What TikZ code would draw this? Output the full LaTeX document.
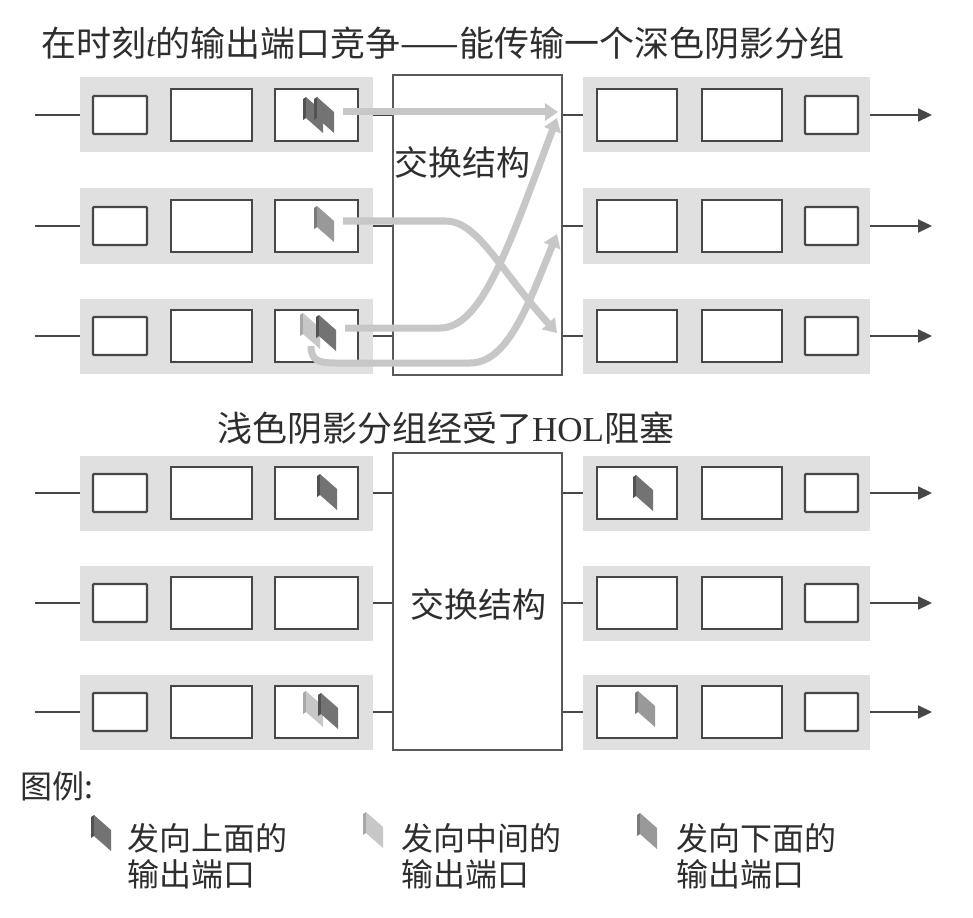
\documentclass[tikz,border=0pt]{standalone}
\usepackage{fontspec}
\setmainfont{Liberation Serif}
\newfontfamily\cjk{Noto Sans CJK SC}
\usetikzlibrary{arrows.meta}
\tikzset{
  pics/pkt/.style n args={2}{code={
    \fill[#2] (0,2) -- (3,0) -- (3,21) -- (0,23) -- cycle;
    \fill[#1] (3,0) -- (20,15) -- (20,36) -- (3,21) -- cycle;
  }}
}
\begin{document}
\begin{tikzpicture}[x=1pt,y=-1pt,
  band/.style={fill=black!12, draw=none, minimum height=75pt, inner sep=0},
  bigbox/.style={draw=black!72, line width=2.2pt, fill=white, minimum width=80pt, minimum height=52pt, inner sep=0},
  smallbox/.style={draw=black!72, line width=2.2pt, fill=white, minimum width=53pt, minimum height=38pt, inner sep=0, rounded corners=1pt},
  wire/.style={draw=black!72, line width=2.2pt},
  outarrow/.style={wire, -{Triangle[length=14pt,width=13pt]}},
  fabric/.style={draw=black!65, line width=1.8pt, fill=white, inner sep=0, minimum width=169pt},
  flow/.style={draw=black!22, line width=7pt, -{Triangle[length=13pt,width=17pt]}},
  lbl/.style={font=\cjk\fontsize{35}{38}\selectfont, text=black!82, inner sep=0},
  fablbl/.style={font=\cjk\fontsize{34}{38}\selectfont, text=black!82, inner sep=0},
  leg/.style={font=\cjk\fontsize{32}{36}\selectfont, text=black!82, inner sep=0, align=left},
]
\useasboundingbox (0,0) rectangle (973,917);

% switch fabrics
\node[fabric, minimum height=300pt] (faba) at (477.5,225) {};
\node[fabric, minimum height=297pt] (fabb) at (477.5,601.5) {};
\node[fablbl] (fla) at (462,162) {交换结构};
\node[fablbl] (flb) at (478,604) {交换结构};

% ports
\foreach \s/\y/\r in {a/115/1, a/226/2, a/336/3, b/493/1, b/603/2, b/712/3} {
  \node[band, minimum width=293pt] (in\s\r) at (226.5,\y) {};
  \node[smallbox, minimum width=54pt] (in\s\r q1) at (120,\y) {};
  \node[bigbox, minimum width=81pt] (in\s\r q2) at (211.5,\y) {};
  \node[bigbox, minimum width=83pt] (in\s\r q3) at (316.5,\y) {};
  \node[band, minimum width=287pt] (out\s\r) at (726.5,\y) {};
  \node[bigbox] (out\s\r q1) at (637,\y) {};
  \node[bigbox] (out\s\r q2) at (742,\y) {};
  \node[smallbox] (out\s\r q3) at (831.5,\y) {};
  \coordinate (src\s\r) at (35,\y);
  \coordinate (dst\s\r) at (932,\y);
  \draw[wire] (src\s\r) -- (in\s\r.west);
  \draw[wire] (in\s\r.east) -- (fab\s.west |- in\s\r.east);
  \draw[wire] (fab\s.east |- out\s\r.west) -- (out\s\r.west);
  \draw[outarrow] (out\s\r.east) -- (dst\s\r);
}

% packets, top section
\pic at (303,97) {pkt={black!55}{black!68}};
\pic at (314,97) {pkt={black!55}{black!68}};
\pic at (314,206) {pkt={black!40}{black!52}};
\pic at (300,313) {pkt={black!22}{black!34}};
\pic at (316,315) {pkt={black!55}{black!68}};

% flows
\coordinate (ka1) at (343,112);
\coordinate (ta1) at (558,112);
\coordinate (ka2) at (343,221);
\coordinate (ta2) at (557,333);
\coordinate (ka3) at (345,328);
\coordinate (ta3) at (557,118);
\coordinate (kb3) at (311,346);
\coordinate (tb3) at (557,234);
\draw[flow] (ka1) -- (ta1);
\draw[flow] (ka2) -- (445,221) .. controls (478,221) and (498,268) .. (ta2);
\draw[flow] (ka3) -- (440,328) .. controls (482,328) and (508,248) .. (ta3);
\draw[flow] (kb3) .. controls (311,360) and (318,363) .. (335,363) -- (470,363) .. controls (508,363) and (528,305) .. (tb3);

% packets, bottom section
\pic at (317,474) {pkt={black!55}{black!68}};
\pic at (633,475) {pkt={black!55}{black!68}};
\pic at (303,691) {pkt={black!22}{black!34}};
\pic at (318,693) {pkt={black!55}{black!68}};
\pic at (635,691) {pkt={black!40}{black!52}};

% titles
\node[lbl, anchor=west] (t1) at (41,43) {在时刻{\normalfont\itshape t}的输出端口竞争——能传输一个深色阴影分组};
\node[lbl, anchor=west] (t2) at (217,428) {浅色阴影分组经受了{\normalfont HOL}阻塞};

% legend
\node[leg, anchor=west] (lg) at (20,786) {图例:};
\pic at (91,815) {pkt={black!55}{black!68}};
\pic at (363,812) {pkt={black!22}{black!34}};
\pic at (637,813) {pkt={black!40}{black!52}};
\node[leg, anchor=west] (lg1) at (127,856) {发向上面的\\输出端口};
\node[leg, anchor=west] (lg2) at (401,856) {发向中间的\\输出端口};
\node[leg, anchor=west] (lg3) at (676,856) {发向下面的\\输出端口};
\end{tikzpicture}
\end{document}
